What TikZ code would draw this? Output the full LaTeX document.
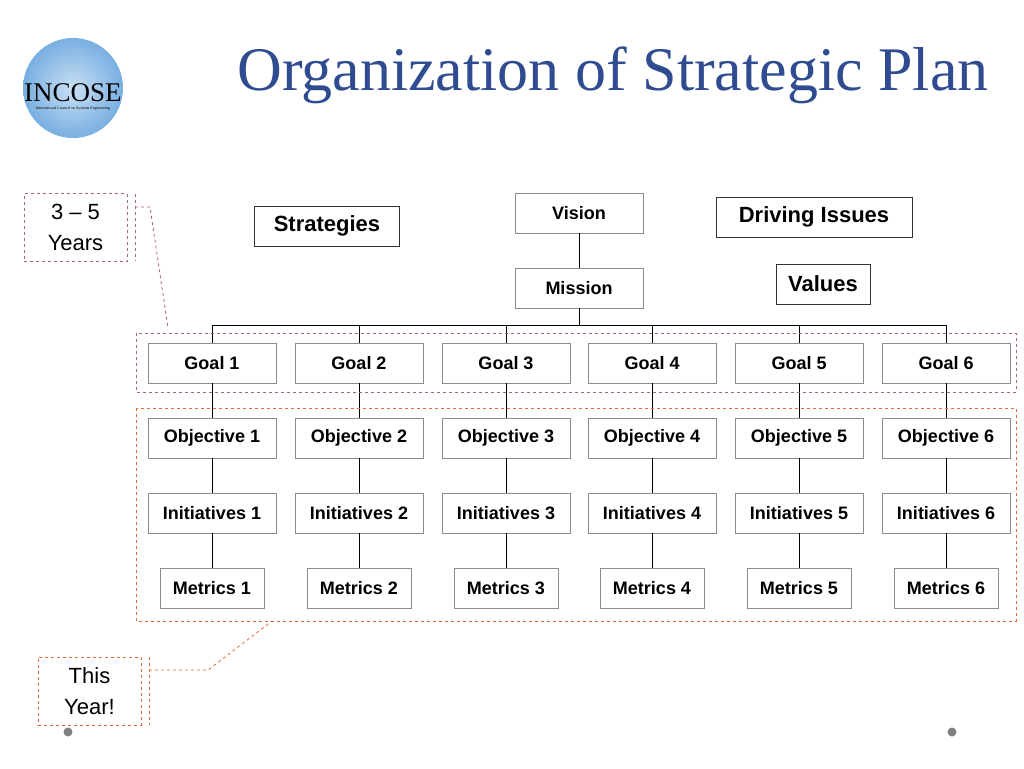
\documentclass[tikz,border=0pt]{standalone}
\usepackage{fontspec}
\setmainfont{Liberation Sans}
\newfontfamily\titlefont{Liberation Serif}
\usetikzlibrary{positioning}
\definecolor{titleblue}{RGB}{48,76,145}
\definecolor{boxgray}{RGB}{140,140,140}
\definecolor{dashred}{RGB}{170,100,110}
\definecolor{dashorange}{RGB}{225,105,60}
\definecolor{globeblue}{RGB}{120,175,225}
\tikzset{
    planbox/.style = {draw=boxgray, line width=0.8pt, minimum width=128pt, minimum height=40pt, font=\fontsize{18}{20}\selectfont\bfseries, inner sep=1pt},
    metricbox/.style = {planbox, minimum width=104pt},
    topbox/.style = {draw=black!80, line width=0.8pt, minimum height=40pt, font=\fontsize{22}{24}\selectfont\bfseries},
    notebox/.style = {dashed, line width=0.8pt, minimum width=103pt, minimum height=68pt, align=center, font=\fontsize{22}{31}\selectfont},
    conn/.style = {line width=0.9pt}
}
\begin{document}
\begin{tikzpicture}[x=1pt,y=-1pt]
    \useasboundingbox (0,0) rectangle (1024,768);

    % logo
    \shade[inner color=white!60!globeblue, outer color=globeblue] (73,88) circle (50);
    \node[inner sep=0pt] (logo) at (73,93) {\fontsize{27}{27}\selectfont\titlefont INCOSE};
    \node[inner sep=0pt, below=4pt of logo] {\fontsize{4}{4}\selectfont\titlefont International Council on Systems Engineering};

    % title
    \node[text=titleblue] (title) at (613,75) {\fontsize{62}{64}\selectfont\titlefont Organization of Strategic Plan};

    % top part
    \node[planbox] (vision) at (579,213) {Vision};
    \node[planbox] (mission) at (579,288) {Mission};
    \node[topbox, minimum width=145pt] (strategies) at (327,226) {Strategies};
    \node[topbox, minimum width=196pt] (issues) at (814,217) {Driving Issues};
    \node[topbox, minimum width=94pt] (values) at (823,284) {Values};
    \draw[conn] (vision) -- (mission);

    % columns
    \foreach \i/\x in {1/212,2/359,3/506,4/652,5/799,6/946} {
        \node[planbox] (goal\i) at (\x,363) {Goal \i};
        \node[planbox] (obj\i) at (\x,438) {Objective \i};
        \node[planbox] (init\i) at (\x,513) {Initiatives \i};
        \node[metricbox] (met\i) at (\x,588) {Metrics \i};
        \coordinate (bus\i) at (\x,325);
        \draw[conn] (bus\i) -- (goal\i);
        \draw[conn] (goal\i) -- (obj\i);
        \draw[conn] (obj\i) -- (init\i);
        \draw[conn] (init\i) -- (met\i);
    }
    \draw[conn] (bus1) -- (bus6);
    \draw[conn] (mission) -- (mission |- bus1);

    % time frames
    \draw[dashred, dashed, line width=0.8pt] (136,333) rectangle (1016,392);
    \draw[dashorange, dashed, line width=0.8pt] (136,408) rectangle (1016,621);

    \node[notebox, draw=dashred] (longterm) at (75.5,227.5) {3 -- 5\\Years};
    \draw[dashred, dashed, line width=0.8pt] (135,194) -- (135,261);
    \draw[dashred, dashed, line width=0.8pt] (135,207) -- (150,207) -- (168,328);

    \node[notebox, draw=dashorange] (thisyear) at (89.5,691) {This\\Year!};
    \draw[dashorange, dashed, line width=0.8pt] (149,657) -- (149,725);
    \draw[dashorange, dashed, line width=0.8pt] (149,670) -- (208,670) -- (272,621);

    % dots
    \fill[gray] (68,732) circle (4.5);
    \fill[gray] (952,732) circle (4.5);
\end{tikzpicture}
\end{document}
